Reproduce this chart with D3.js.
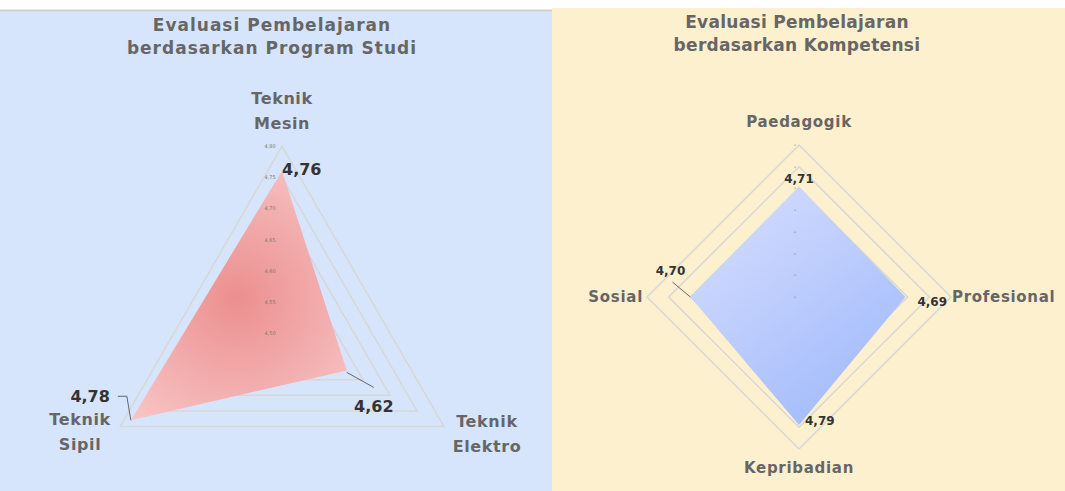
<!DOCTYPE html>
<html>
<head>
<meta charset="utf-8">
<script src="https://cdn.jsdelivr.net/npm/d3@7"></script>
<style>
  body { margin: 0; background: #fff; font-family: "DejaVu Sans", sans-serif; }
  svg text { font-family: "DejaVu Sans", sans-serif; }
</style>
</head>
<body>
<div id="chart"></div>
<script>
// --- data ---
const prodiAxes = [["Teknik", "Mesin"], ["Teknik", "Elektro"], ["Teknik", "Sipil"]];
const prodiValues = [4.76, 4.62, 4.78];
const prodiTicks = [4.5, 4.55, 4.6, 4.65, 4.7, 4.75, 4.8];

const kompAxes = ["Paedagogik", "Profesional", "Kepribadian", "Sosial"];
const kompValues = [4.71, 4.69, 4.79, 4.70];
const kompTicks = [4.2, 4.3, 4.4, 4.5, 4.6, 4.7, 4.8, 4.9];

const fmt = v => d3.format(".2f")(v).replace(".", ",");

const W = 1065, H = 491;
const svg = d3.select("#chart").append("svg")
  .attr("width", W).attr("height", H);

// gradients (coords relative to each chart centre)
const defs = svg.append("defs");
const pinkGrad = defs.append("radialGradient").attr("id", "pink")
  .attr("gradientUnits", "userSpaceOnUse")
  .attr("cx", -45).attr("cy", -35).attr("r", 220);
pinkGrad.append("stop").attr("offset", "0%").attr("stop-color", "#ec8f8f");
pinkGrad.append("stop").attr("offset", "100%").attr("stop-color", "#fcdada");

const blueGrad = defs.append("linearGradient").attr("id", "blue")
  .attr("gradientUnits", "userSpaceOnUse")
  .attr("x1", -80).attr("y1", -100).attr("x2", 80).attr("y2", 110);
blueGrad.append("stop").attr("offset", "0%").attr("stop-color", "#d3dcfd");
blueGrad.append("stop").attr("offset", "100%").attr("stop-color", "#a1bafc");

// panels
svg.append("rect").attr("x", 0).attr("y", 10).attr("width", 552).attr("height", H - 10)
  .attr("fill", "#d6e5fb");
svg.append("line").attr("x1", 0).attr("x2", 552).attr("y1", 10.5).attr("y2", 10.5)
  .attr("stroke", "#d0d0d0").attr("stroke-width", 2);
svg.append("rect").attr("x", 552).attr("y", 8).attr("width", W - 552).attr("height", H - 8)
  .attr("fill", "#fdf0ce");

// titles
function title(x, y, lines, ls) {
  const t = svg.append("text").attr("text-anchor", "middle")
    .attr("font-size", 17).attr("font-weight", "bold").attr("fill", "#666")
    .attr("letter-spacing", ls);
  lines.forEach((l, i) => t.append("tspan").attr("x", x).attr("y", y + i * 23).text(l));
}
title(272, 31, ["Evaluasi Pembelajaran", "berdasarkan Program Studi"], 1.0);
title(797, 28, ["Evaluasi Pembelajaran", "berdasarkan Kompetensi"], 0.3);

// generic radar
function radar(opt) {
  const n = opt.values.length;
  const g = svg.append("g").attr("transform", `translate(${opt.cx},${opt.cy})`);
  const r = d3.scaleLinear().domain(d3.extent(opt.ticks)).range([0, opt.radius]);
  const angle = i => (i / n) * 2 * Math.PI;
  const pt = (i, v) => [Math.sin(angle(i)) * r(v), -Math.cos(angle(i)) * r(v)];
  const radial = d3.lineRadial().angle((d, i) => angle(i)).radius(d => r(d))
    .curve(d3.curveLinearClosed);

  // grid polygons
  opt.ticks.slice(1).forEach(t => {
    g.append("path").attr("d", radial(d3.range(n).map(() => t)))
      .attr("fill", "none").attr("stroke", "#d7d7d7").attr("stroke-width", 1.5);
  });

  // data area
  g.append("path").attr("d", radial(opt.values)).attr("fill", opt.fill);

  // tick labels on the vertical axis
  opt.ticks.forEach(t => {
    g.append("text").attr("x", opt.tickDx).attr("y", -r(t) + 2)
      .attr("text-anchor", "middle").attr("font-size", opt.tickSize)
      .attr("fill", "#777").text(opt.tickText(t));
  });

  // leader lines + value labels
  opt.values.forEach((v, i) => {
    const [x, y] = pt(i, v);
    const lab = opt.valueLabels[i];
    if (lab.leader) {
      g.append("path").attr("d", d3.line()(lab.leader.map(p => [x + p[0], y + p[1]])))
        .attr("fill", "none").attr("stroke", "#666").attr("stroke-width", 1);
    }
    g.append("text").attr("x", x + lab.dx).attr("y", y + lab.dy)
      .attr("text-anchor", lab.anchor).attr("font-size", opt.valueSize)
      .attr("font-weight", "bold").attr("fill", "#333").text(fmt(v));
  });

  // axis names
  opt.axes.forEach((a, i) => {
    const [x, y] = pt(i, opt.ticks[opt.ticks.length - 1]);
    const lab = opt.axisLabels[i];
    const lines = Array.isArray(a) ? a : [a];
    const t = g.append("text").attr("text-anchor", lab.anchor)
      .attr("font-size", opt.axisSize).attr("font-weight", "bold").attr("fill", "#666")
      .attr("letter-spacing", opt.axisSpacing);
    lines.forEach((l, k) => t.append("tspan").attr("x", x + lab.dx)
      .attr("y", y + lab.dy + k * opt.lineGap).text(l));
  });
}

radar({
  cx: 282, cy: 333, radius: 187,
  values: prodiValues, ticks: prodiTicks, axes: prodiAxes,
  fill: "url(#pink)",
  tickDx: -12, tickSize: 5, tickText: t => fmt(t),
  valueSize: 16,
  valueLabels: [
    { dx: 0, dy: 4, anchor: "start" },
    { dx: 27, dy: 42, anchor: "middle", leader: [[0, 2], [27, 17]] },
    { dx: -21, dy: -18, anchor: "end", leader: [[-13, -24], [-4, -24], [0, 0]] }
  ],
  axisSize: 16, axisSpacing: 0.6, lineGap: 25,
  axisLabels: [
    { dx: 0, dy: -42, anchor: "middle" },
    { dx: 43, dy: 0, anchor: "middle" },
    { dx: -40, dy: -2, anchor: "middle" }
  ]
});

radar({
  cx: 799, cy: 297, radius: 152,
  values: kompValues, ticks: kompTicks, axes: kompAxes,
  fill: "url(#blue)",
  tickDx: -4, tickSize: 7, tickText: () => "-",
  valueSize: 12,
  valueLabels: [
    { dx: 0, dy: -3, anchor: "middle" },
    { dx: 12, dy: 9, anchor: "start" },
    { dx: 6, dy: 0, anchor: "start" },
    { dx: -20, dy: -22, anchor: "middle", leader: [[-18, -15], [0, 0]] }
  ],
  axisSize: 15, axisSpacing: 0.7, lineGap: 18,
  axisLabels: [
    { dx: 0, dy: -18, anchor: "middle" },
    { dx: 1, dy: 5, anchor: "start" },
    { dx: 0, dy: 24, anchor: "middle" },
    { dx: -4, dy: 5, anchor: "end" }
  ]
});
</script>
</body>
</html>
